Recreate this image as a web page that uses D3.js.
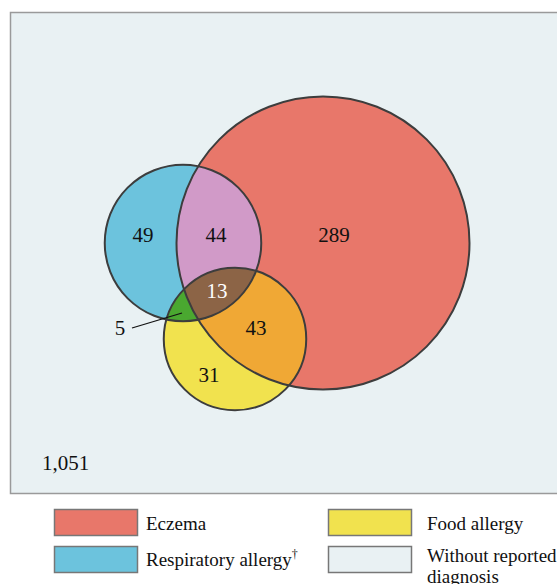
<!DOCTYPE html>
<html>
<head>
<meta charset="utf-8">
<script src="https://cdn.jsdelivr.net/npm/d3@7"></script>
<style>
  html, body { margin: 0; padding: 0; background: #ffffff; }
  svg { display: block; }
  text { font-family: "Liberation Serif", "DejaVu Serif", serif; }
</style>
</head>
<body>
<div id="chart"></div>
<script>
// ---------- DATA ----------
const sets = ["Eczema", "Respiratory allergy", "Food allergy"];
const setColors = ["#e8776a", "#6cc3dd", "#f1e24e"];
// exclusive region counts
const regionKeys   = ["E", "R", "F", "ER", "EF", "RF", "ERF"];
const regionValues = [289, 49, 31, 44, 43, 5, 13];
const noneValue = 1051;
const legendLabels = ["Eczema", "Food allergy", "Respiratory allergy", "Without reported"];

// ---------- LAYOUT (positions / styles) ----------
const W = 557, H = 584;
const centers = { E: [323, 243], R: [183, 243], F: [235, 339] };
const labelPos = {
  E: [334, 237], R: [143, 237], F: [209, 377], ER: [216, 237],
  EF: [256, 330], RF: [120, 330], ERF: [217, 293]
};
const regionColors = { ER: "#d19ac8", EF: "#f0a835", RF: "#4aa830", ERF: "#8c6446" };
const bgColor = "#e9f1f3";
const strokeCol = "#3d3d3d";

const totals = {
  E: d3.sum(regionKeys.map((k, i) => k.includes("E") ? regionValues[i] : 0)),
  R: d3.sum(regionKeys.map((k, i) => k.includes("R") ? regionValues[i] : 0)),
  F: d3.sum(regionKeys.map((k, i) => k.includes("F") ? regionValues[i] : 0))
};
const rScale = d3.scaleSqrt().domain([0, 389]).range([0, 146.5]);

const svg = d3.select("#chart").append("svg").attr("width", W).attr("height", H);
const defs = svg.append("defs");

// background panel
svg.append("rect").attr("x", 10.5).attr("y", 12.5).attr("width", 560).attr("height", 481)
  .attr("fill", bgColor).attr("stroke", "#9a9a9a").attr("stroke-width", 1.5);

const keys = ["E", "R", "F"];
keys.forEach(k => {
  defs.append("clipPath").attr("id", "clip" + k).append("circle")
    .attr("cx", centers[k][0]).attr("cy", centers[k][1]).attr("r", rScale(totals[k]));
});

function circ(g, k, fill) {
  return g.append("circle").attr("cx", centers[k][0]).attr("cy", centers[k][1])
    .attr("r", rScale(totals[k])).attr("fill", fill);
}

const g = svg.append("g");
circ(g, "E", setColors[0]);
circ(g, "R", setColors[1]);
circ(g, "F", setColors[2]);
// overlaps
circ(g.append("g").attr("clip-path", "url(#clipR)"), "E", regionColors.ER);
circ(g.append("g").attr("clip-path", "url(#clipF)"), "E", regionColors.EF);
circ(g.append("g").attr("clip-path", "url(#clipF)"), "R", regionColors.RF);
circ(g.append("g").attr("clip-path", "url(#clipF)").append("g").attr("clip-path", "url(#clipR)"), "E", regionColors.ERF);
// outlines
keys.forEach(k => {
  circ(g, k, "none").attr("stroke", strokeCol).attr("stroke-width", 2);
});

// leader line for the small region
g.append("line").attr("x1", 132).attr("y1", 328).attr("x2", 182).attr("y2", 313)
  .attr("stroke", "#111").attr("stroke-width", 1.3);

// region labels
regionKeys.forEach((k, i) => {
  g.append("text").attr("x", labelPos[k][0]).attr("y", labelPos[k][1])
    .attr("text-anchor", "middle").attr("dominant-baseline", "middle")
    .attr("font-size", 21).attr("fill", k === "ERF" ? "#ffffff" : "#111")
    .text(d3.format(",")(regionValues[i]));
});
svg.append("text").attr("x", 42).attr("y", 470).attr("font-size", 21).attr("fill", "#111")
  .text(d3.format(",")(noneValue));

// legend
const legend = svg.append("g");
const legendItems = [
  { label: legendLabels[0], color: setColors[0], x: 54, y: 509, tx: 146 },
  { label: legendLabels[1], color: setColors[2], x: 328, y: 509, tx: 427 },
  { label: legendLabels[2], color: setColors[1], x: 54, y: 546, tx: 146 },
  { label: legendLabels[3], color: bgColor, x: 328, y: 546, tx: 427 }
];
legendItems.forEach((d, i) => {
  legend.append("rect").attr("x", d.x + 0.5).attr("y", d.y + 0.5).attr("width", 83).attr("height", 26)
    .attr("fill", d.color).attr("stroke", "#777").attr("stroke-width", 1.5);
  const t = legend.append("text").attr("x", d.tx).attr("font-size", 19).attr("fill", "#111");
  if (i === 3) {
    t.attr("y", 562).text(d.label);
    legend.append("text").attr("x", d.tx).attr("y", 583).attr("font-size", 19).attr("fill", "#111").text("diagnosis");
  } else if (i === 2) {
    t.attr("y", 566).text(d.label);
    t.append("tspan").attr("font-size", 12).attr("dy", -8).text("†");
  } else {
    t.attr("y", 530).text(d.label);
  }
});
</script>
</body>
</html>
